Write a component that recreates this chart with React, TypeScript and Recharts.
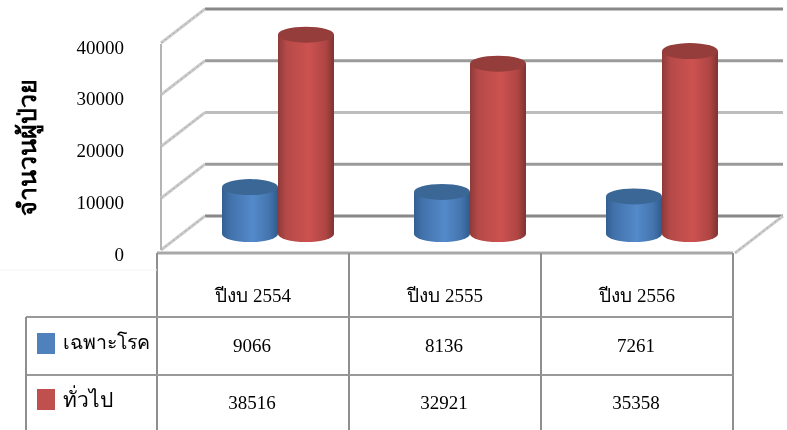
import React from "react";
import { ComposedChart, Bar, XAxis, YAxis, CartesianGrid } from "recharts";

const categories = ["ปีงบ 2554", "ปีงบ 2555", "ปีงบ 2556"];
const seriesNames = ["เฉพาะโรค", "ทั่วไป"];
const specificValues = [9066, 8136, 7261];
const generalValues = [38516, 32921, 35358];
const yTicks = [0, 10000, 20000, 30000, 40000];
const gridShades = ["#888888", "#9a9a9a", "#bdbdbd", "#9a9a9a", "#888888"];
const swatches = ["#4f81bd", "#c0504d"];

const rows = categories.map((name, i) => ({
  name,
  specific: specificValues[i],
  general: generalValues[i],
}));

const FONT = "'Liberation Serif', 'Times New Roman', serif";
const DEPTH_X = 48;
const DEPTH_Y = 37;
const BAR_DX = 25;
const BAR_DY = -19;
const RY = 8;

function Cylinder(props: any) {
  const { x, y, width, height, gradient, cap } = props;
  const left = x + BAR_DX;
  const right = left + width;
  const top = y + BAR_DY;
  const bottom = top + height;
  const cx = left + width / 2;
  const rx = width / 2;
  return (
    <g>
      <path
        d={`M${left},${top} L${left},${bottom} A${rx},${RY} 0 0 0 ${right},${bottom} L${right},${top} Z`}
        fill={`url(#${gradient})`}
      />
      <ellipse cx={cx} cy={top} rx={rx} ry={RY} fill={cap} />
    </g>
  );
}

function Diagonal({ x1, y1, x2, y2 }: any) {
  return (
    <g>
      <line x1={x1} y1={y1} x2={x2} y2={y2} stroke="#cbcbcb" strokeWidth={3} />
      <line x1={x1} y1={y1} x2={x2} y2={y2} stroke="#a8a8a8" strokeWidth={1} strokeDasharray="2 3" />
    </g>
  );
}

function GridLine(props: any) {
  const { x, y, width, height, y1, index } = props;
  const isFloor = Math.abs(y1 - (y + height)) < 1;
  const wallX = x + 4;
  const backX = x + DEPTH_X;
  const backY = y1 - DEPTH_Y;
  const endX = x + width + 50;
  return (
    <g key={`g-${index}`}>
      <line x1={backX} y1={backY} x2={endX} y2={backY} stroke={gridShades[index]} strokeWidth={3} />
      <Diagonal x1={wallX} y1={y1 - 3} x2={backX} y2={backY} />
      {isFloor && (
        <g>
          <line x1={wallX} y1={y1 - 3} x2={wallX} y2={y - 2} stroke="#b4b4b4" strokeWidth={2} />
          <line x1={x} y1={y1} x2={x + width} y2={y1} stroke="#a8a8a8" strokeWidth={3} />
          <Diagonal x1={x + width + 2} y1={y1} x2={endX} y2={backY} />
        </g>
      )}
    </g>
  );
}

function TableTick(props: any) {
  const { x, y, payload, index } = props;
  const half = 96;
  const top = y;
  const row1 = top + 64;
  const row2 = top + 122;
  const bottom = 430;
  const common = { fontFamily: FONT, fontSize: 19, fill: "#000", textAnchor: "middle" as const };
  return (
    <g>
      <line x1={x - half} y1={top} x2={x - half} y2={bottom} stroke="#8f8f8f" strokeWidth={2} />
      <line x1={x + half} y1={top} x2={x + half} y2={bottom} stroke="#8f8f8f" strokeWidth={2} />
      <line x1={x - half} y1={row1} x2={x + half} y2={row1} stroke="#999" strokeWidth={2} />
      <line x1={x - half} y1={row2} x2={x + half} y2={row2} stroke="#999" strokeWidth={2} />
      <text x={x} y={top + 49} {...common}>{payload.value}</text>
      <text x={x - 1} y={top + 99} {...common}>{specificValues[index]}</text>
      <text x={x - 1} y={top + 156} {...common}>{generalValues[index]}</text>
      {index === 0 && (
        <g>
          <line x1={0} y1={top + 17} x2={x - half} y2={top + 17} stroke="#f3f3f3" strokeWidth={1} />
          <line x1={26} y1={row1} x2={x - half} y2={row1} stroke="#999" strokeWidth={2} />
          <line x1={26} y1={row2} x2={x - half} y2={row2} stroke="#999" strokeWidth={2} />
          <line x1={26} y1={row1} x2={26} y2={bottom} stroke="#8f8f8f" strokeWidth={2} />
          <rect x={37} y={top + 80} width={18} height={21} fill={swatches[0]} />
          <rect x={37} y={top + 136} width={18} height={21} fill={swatches[1]} />
          <text x={63} y={top + 96} fontFamily={FONT} fontSize={19.5} fill="#000">{seriesNames[0]}</text>
          <text x={63} y={top + 154} fontFamily={FONT} fontSize={21} fill="#000">{seriesNames[1]}</text>
        </g>
      )}
    </g>
  );
}

export default function App() {
  return (
    <div style={{ position: "absolute", left: 0, top: 0, background: "#fff", filter: "blur(0.45px)" }}>
      <ComposedChart
        width={787}
        height={430}
        data={rows}
        margin={{ top: 46, right: 54, bottom: 0, left: 0 }}
        barGap={0}
        barCategoryGap={40}
      >
        <defs>
          <linearGradient id="blueCyl" x1="0" y1="0" x2="1" y2="0">
            <stop offset="0" stopColor="#335f92" />
            <stop offset="0.15" stopColor="#4272ab" />
            <stop offset="0.55" stopColor="#538aca" />
            <stop offset="0.85" stopColor="#4474ad" />
            <stop offset="1" stopColor="#2f5a8c" />
          </linearGradient>
          <linearGradient id="redCyl" x1="0" y1="0" x2="1" y2="0">
            <stop offset="0" stopColor="#8e3a38" />
            <stop offset="0.15" stopColor="#b54a48" />
            <stop offset="0.55" stopColor="#cc5250" />
            <stop offset="0.85" stopColor="#ae4644" />
            <stop offset="1" stopColor="#7f3331" />
          </linearGradient>
        </defs>
        <CartesianGrid vertical={false} horizontal={GridLine as any} />
        <XAxis
          dataKey="name"
          height={177}
          axisLine={false}
          tickLine={false}
          tickSize={0}
          tickMargin={0}
          interval={0}
          tick={TableTick as any}
        />
        <YAxis
          width={157}
          domain={[0, 40000]}
          ticks={yTicks}
          axisLine={false}
          tickLine={false}
          tickSize={0}
          tickMargin={33}
          tick={{ fontFamily: FONT, fontSize: 19, fill: "#000", dy: 1 }}
          label={{
            value: "จำนวนผู้ป่วย",
            angle: -90,
            position: "insideLeft",
            offset: 27,
            dy: -2,
            style: { fontFamily: FONT, fontSize: 25, fontWeight: 700, fill: "#000", textAnchor: "middle" },
          }}
        />
        <Bar
          dataKey="specific"
          name={seriesNames[0]}
          barSize={56}
          isAnimationActive={false}
          shape={(p: any) => <Cylinder {...p} gradient="blueCyl" cap="#3b6796" />}
        />
        <Bar
          dataKey="general"
          name={seriesNames[1]}
          barSize={56}
          isAnimationActive={false}
          shape={(p: any) => <Cylinder {...p} gradient="redCyl" cap="#943d3b" />}
        />
      </ComposedChart>
    </div>
  );
}
